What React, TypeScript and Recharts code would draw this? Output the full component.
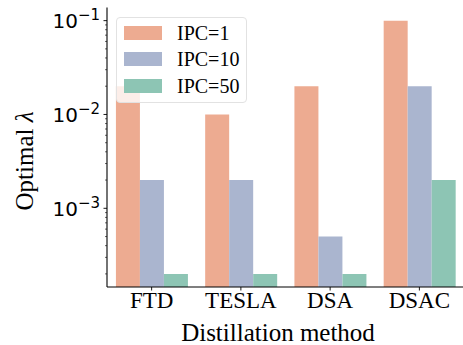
import { BarChart, Bar, XAxis, YAxis } from 'recharts'

// values (log scale)
const methods = ['FTD', 'TESLA', 'DSA', 'DSAC']
const ipc1 = [0.02, 0.01, 0.02, 0.1]
const ipc10 = [0.002, 0.002, 0.0005, 0.02]
const ipc50 = [0.0002, 0.0002, 0.0002, 0.002]

const seriesNames = ['IPC=1', 'IPC=10', 'IPC=50']
const seriesKeys = ['ipc1', 'ipc10', 'ipc50']
const seriesColors = ['#EDAB91', '#AAB5CF', '#8DC5B4']

const majorTicks = [0.001, 0.01, 0.1]
const majorExponents = ['−3', '−2', '−1']
const minorTicks = [
  0.0002, 0.0003, 0.0004, 0.0005, 0.0006, 0.0007, 0.0008, 0.0009,
  0.002, 0.003, 0.004, 0.005, 0.006, 0.007, 0.008, 0.009,
  0.02, 0.03, 0.04, 0.05, 0.06, 0.07, 0.08, 0.09,
]

const yDomain = [0.000145, 0.138]

const data = methods.map((method, i) => ({
  method,
  ipc1: ipc1[i],
  ipc10: ipc10[i],
  ipc50: ipc50[i],
}))

const AXIS_X = 107
const AXIS_Y = 287
const SERIF = '"Liberation Serif", "Times New Roman", serif'

function YTick(props: any) {
  const { y, payload } = props
  const idx = majorTicks.indexOf(payload.value)
  const major = idx >= 0
  return (
    <g>
      <line
        x1={AXIS_X}
        x2={AXIS_X - (major ? 3.5 : 2)}
        y1={y}
        y2={y}
        stroke="#000"
        strokeWidth={major ? 0.9 : 0.6}
      />
      {major && (
        <text x={100} y={y + 7.5} textAnchor="end" fontFamily="DejaVu Sans" fontSize={20} fill="#000">
          10
          <tspan dy={-8} fontSize={15}>{majorExponents[idx]}</tspan>
        </text>
      )}
    </g>
  )
}

function XTick(props: any) {
  const { x, payload } = props
  return (
    <g>
      <line x1={x} x2={x} y1={AXIS_Y} y2={AXIS_Y + 3.5} stroke="#000" strokeWidth={0.9} />
      <text x={x} y={308} textAnchor="middle" fontFamily={SERIF} fontSize={23} fill="#000">
        {payload.value}
      </text>
    </g>
  )
}

function XTitle() {
  return (
    <text x={278} y={340.5} textAnchor="middle" fontFamily={SERIF} fontSize={25} fill="#000">
      Distillation method
    </text>
  )
}

function YTitle() {
  return (
    <text
      x={0}
      y={0}
      transform="translate(33, 161) rotate(-90)"
      textAnchor="middle"
      fontFamily={SERIF}
      fontSize={25}
      fill="#000"
    >
      Optimal <tspan fontStyle="italic">λ</tspan>
    </text>
  )
}

function LegendBox() {
  const patchTops = [8, 34, 60.5]
  const textTops = [4.5, 31, 57.5]
  return (
    <div
      style={{
        position: 'absolute',
        left: 116,
        top: 17,
        width: 131,
        height: 86,
        boxSizing: 'border-box',
        border: '1px solid #e2e2e2',
        borderRadius: 4,
        background: 'rgba(255,255,255,0.8)',
      }}
    >
      {seriesNames.map((name, i) => (
        <div key={name}>
          <div
            style={{
              position: 'absolute',
              left: 7,
              top: patchTops[i],
              width: 38,
              height: 14,
              background: seriesColors[i],
            }}
          />
          <div
            style={{
              position: 'absolute',
              left: 60,
              top: textTops[i],
              fontFamily: SERIF,
              fontSize: 20,
              lineHeight: '20px',
              color: '#000',
              whiteSpace: 'nowrap',
            }}
          >
            {name}
          </div>
        </div>
      ))}
    </div>
  )
}

export default function App() {
  return (
    <div style={{ position: 'relative', width: 463, height: 345, overflow: 'hidden', background: '#fff' }}>
      <style>{'body{margin:0}'}</style>
      <BarChart
        width={465}
        height={345}
        data={data}
        margin={{ top: 7.5, right: 1, bottom: 0, left: 0 }}
        barCategoryGap="10%"
        barGap={0}
      >
        <XAxis
          dataKey="method"
          height={58}
          axisLine={{ stroke: '#000', strokeWidth: 1.1 }}
          tickLine={false}
          tick={<XTick />}
          interval={0}
          label={<XTitle />}
        />
        <XAxis
          xAxisId="top"
          dataKey="method"
          orientation="top"
          height={0}
          axisLine={{ stroke: '#555', strokeWidth: 1 }}
          tickLine={false}
          tick={false}
        />
        <YAxis
          type="number"
          scale="log"
          domain={yDomain}
          allowDataOverflow
          width={107}
          ticks={[...minorTicks, ...majorTicks]}
          interval={0}
          axisLine={{ stroke: '#000', strokeWidth: 1.1 }}
          tickLine={false}
          tick={<YTick />}
          label={<YTitle />}
        />
        {seriesKeys.map((key, i) => (
          <Bar key={key} dataKey={key} name={seriesNames[i]} fill={seriesColors[i]} isAnimationActive={false} />
        ))}
      </BarChart>
      <LegendBox />
    </div>
  )
}
